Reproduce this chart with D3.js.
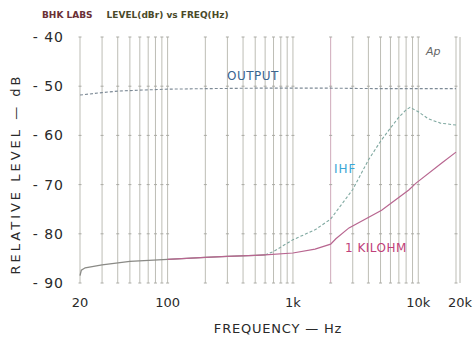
<!DOCTYPE html>
<html><head><meta charset="utf-8">
<script src="https://cdn.jsdelivr.net/npm/d3@7/dist/d3.min.js"></script>
<style>body{margin:0;background:#fff}svg{display:block}text{font-family:"DejaVu Sans",sans-serif}</style>
</head><body><svg id="c" width="473" height="339"></svg>
<script>
// Data
const gridFreqs = [20,30,40,50,60,70,80,90,100,200,300,400,500,600,700,800,900,1000,2000,3000,4000,5000,6000,7000,8000,9000,10000,20000];
const xTickValues = [20,100,1000,10000,20000];
const xTickLabels = ["20","100","1k","10k","20k"];
const yTickValues = [-40,-50,-60,-70,-80,-90];

const outputFreq = [20,30,40,60,100,200,500,1000,2000,5000,10000,20000];
const outputDb   = [-51.8,-51.3,-51.0,-50.8,-50.6,-50.5,-50.4,-50.4,-50.4,-50.5,-50.5,-50.5];

const commonFreq = [20,20.5,22,30,50,100,200,300,500,600];
const commonDb   = [-88.5,-87.4,-86.9,-86.3,-85.6,-85.2,-84.8,-84.6,-84.4,-84.3];

const ihfFreq = [600,700,1000,1500,2000,3000,4000,5000,6000,7000,8000,8600,10000,12000,15000,20000];
const ihfDb   = [-84.3,-83.6,-81.2,-79.2,-77.0,-71.0,-65.0,-61.2,-58.5,-56.3,-54.8,-54.3,-55.2,-56.6,-57.5,-57.9];

const kohmFreq = [100,200,300,500,600,1000,1500,2000,2200,2800,5100,8400,9600,15400,20000];
const kohmDb   = [-85.2,-84.8,-84.6,-84.4,-84.3,-83.9,-83.1,-82.1,-81.0,-78.8,-75.2,-71.1,-69.7,-65.6,-63.4];

const svg = d3.select("#c");
const x = d3.scaleLog().domain([20,20000]).range([80,456]);
const y = d3.scaleLinear().domain([-90,-40]).range([283,37]);

// vertical grid
svg.append("g").selectAll("line").data(gridFreqs).join("line")
  .attr("x1",d=>x(d)).attr("x2",d=>x(d))
  .attr("y1",y(-40)).attr("y2",y(-90))
  .attr("stroke",d=>d===2000?"#cfa9b9":"#bdbdb5").attr("stroke-width",1);
// right border
svg.append("line").attr("x1",x(20000)+4).attr("x2",x(20000)+4)
  .attr("y1",y(-40)).attr("y2",y(-90)).attr("stroke","#b5b5ad");
// small tick marks at each 10 dB on grid lines
const ticks = [];
gridFreqs.forEach(f=>yTickValues.forEach(v=>ticks.push([f,v])));
svg.append("g").selectAll("line").data(ticks).join("line")
  .attr("x1",d=>x(d[0])-1.5).attr("x2",d=>x(d[0])+1.5)
  .attr("y1",d=>y(d[1])).attr("y2",d=>y(d[1]))
  .attr("stroke","#aaaaa4").attr("stroke-width",1);

// y tick labels
svg.append("g").selectAll("text").data(yTickValues).join("text")
  .attr("x",64).attr("y",d=>y(d)+5).attr("text-anchor","end")
  .attr("font-size",14).attr("fill","#2a2a2a").attr("letter-spacing","1")
  .text(d=>"- "+Math.abs(d));
// x tick labels
svg.append("g").selectAll("text").data(xTickValues).join("text")
  .attr("x",(d,i)=>x(d)+(i===4?4:0)).attr("y",307).attr("text-anchor","middle")
  .attr("font-size",13).attr("fill","#2a2a2a")
  .text((d,i)=>xTickLabels[i]);

const line = (fs,ds)=>d3.line().x((d,i)=>x(fs[i])).y((d,i)=>y(ds[i]))(ds);

// OUTPUT
svg.append("path").attr("d",line(outputFreq,outputDb)).attr("fill","none")
  .attr("stroke","#7d8a96").attr("stroke-width",1.1).attr("stroke-dasharray","3,2");
// common low part
svg.append("path").attr("d",line(commonFreq,commonDb)).attr("fill","none")
  .attr("stroke","#8a8a86").attr("stroke-width",1.3);
// IHF
svg.append("path").attr("d",line(ihfFreq,ihfDb)).attr("fill","none")
  .attr("stroke","#7fa8a0").attr("stroke-width",1.1).attr("stroke-dasharray","3,2");
// 1 KILOHM
svg.append("path").attr("d",line(kohmFreq,kohmDb)).attr("fill","none")
  .attr("stroke","#b86690").attr("stroke-width",1.2);

// labels
svg.append("text").attr("x",227).attr("y",80).attr("font-size",12).attr("fill","#3a6590")
  .attr("letter-spacing","0.5").text("OUTPUT");
svg.append("text").attr("x",334).attr("y",173).attr("font-size",12).attr("fill","#3aa6d6")
  .attr("letter-spacing","1").text("IHF");
svg.append("text").attr("x",345).attr("y",252).attr("font-size",12).attr("fill","#c0407a")
  .attr("letter-spacing","0.5").text("1 KILOHM");
svg.append("text").attr("x",426).attr("y",55).attr("font-size",11).attr("font-style","italic")
  .attr("fill","#666").text("Ap");

// title
const t = svg.append("text").attr("x",42).attr("y",18).attr("font-size",9).attr("font-weight","bold")
  .attr("font-family","'Liberation Sans Narrow','DejaVu Sans Condensed',sans-serif");
t.append("tspan").attr("fill","#6a3036").text("BHK LABS");
t.append("tspan").attr("dx",14).attr("fill","#4a4a2a").text("LEVEL(dBr) vs FREQ(Hz)");

// axis titles
svg.append("text").attr("x",278).attr("y",333).attr("text-anchor","middle")
  .attr("font-size",13).attr("fill","#2a2a2a").attr("letter-spacing","0.8").text("FREQUENCY — Hz");
svg.append("text").attr("transform","translate(20,174) rotate(-90)").attr("text-anchor","middle")
  .attr("font-size",13).attr("fill","#2a2a2a").attr("letter-spacing","3").text("RELATIVE LEVEL — dB");
</script></body></html>
